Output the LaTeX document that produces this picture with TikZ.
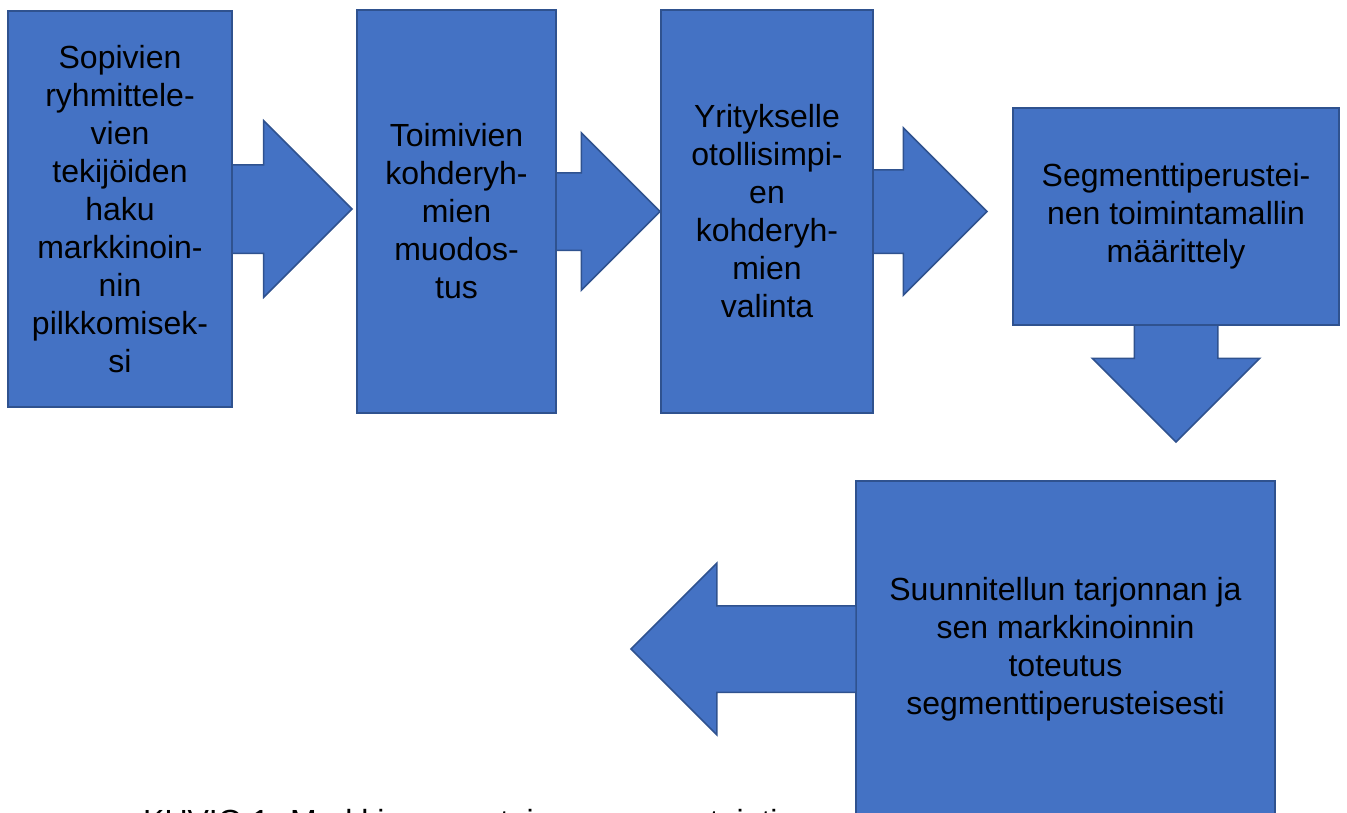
\documentclass[tikz,border=0pt]{standalone}
\usepackage{fontspec}
\setmainfont{Liberation Sans}
\usetikzlibrary{shapes.arrows}

\definecolor{boxblue}{HTML}{4472C4}
\definecolor{boxline}{HTML}{2F528F}

\tikzset{
  stepbox/.style={draw=boxline, fill=boxblue, line width=1.5pt, outer sep=0pt,
    inner sep=0pt, align=center, font=\fontsize{32}{38}\selectfont},
  blockarrow/.style={single arrow, draw=boxline, fill=boxblue, line width=1.5pt,
    outer sep=0pt, inner xsep=0pt, single arrow head indent=0pt,
    single arrow tip angle=90, anchor=tail}
}

\begin{document}
\begin{tikzpicture}[x=1pt, y=-1pt]
  \useasboundingbox (0,0) rectangle (1347,812);
  \clip (0,0) rectangle (1347,812);

  % steps of the process
  \node[stepbox, minimum width=224, minimum height=396] (b1) at (120,209)
    {Sopivien\\ryhmittele-\\vien\\tekijöiden\\haku\\markkinoin-\\nin\\pilkkomisek-\\si};
  \node[stepbox, minimum width=199, minimum height=403] (b2) at (456.5,211.5)
    {Toimivien\\kohderyh-\\mien\\muodos-\\tus};
  \node[stepbox, minimum width=212, minimum height=403] (b3) at (767,211.5)
    {Yritykselle\\otollisimpi-\\en\\kohderyh-\\mien\\valinta};
  \node[stepbox, minimum width=326, minimum height=217] (b4) at (1176,216.5)
    {Segmenttiperustei-\\nen toimintamallin\\määrittely};

  \node[anchor=base west, inner sep=0pt, font=\fontsize{32}{38}\selectfont] (cap)
    at (143,832) {KUVIO 1. Markkinaperusteinen segmentointi};

  \node[stepbox, minimum width=419, minimum height=336] (b5) at (1065.5,649)
    {Suunnitellun tarjonnan ja\\sen markkinoinnin\\toteutus\\segmenttiperusteisesti};

  % block arrows between the steps
  \node[blockarrow, minimum height=120, inner ysep=43.5,
    single arrow head extend=44] (a1) at (b1.east) {};
  \node[blockarrow, minimum height=104, inner ysep=38,
    single arrow head extend=40] (a2) at (b2.east) {};
  \node[blockarrow, minimum height=114, inner ysep=41,
    single arrow head extend=42] (a3) at (b3.east) {};
  \node[blockarrow, minimum height=117, inner xsep=41, inner ysep=0pt,
    single arrow head extend=42, shape border rotate=270] (a4) at (b4.south) {};
  \node[blockarrow, minimum height=225, inner ysep=42.5,
    single arrow head extend=42.5, shape border rotate=180] (a5) at (b5.west) {};
\end{tikzpicture}
\end{document}
